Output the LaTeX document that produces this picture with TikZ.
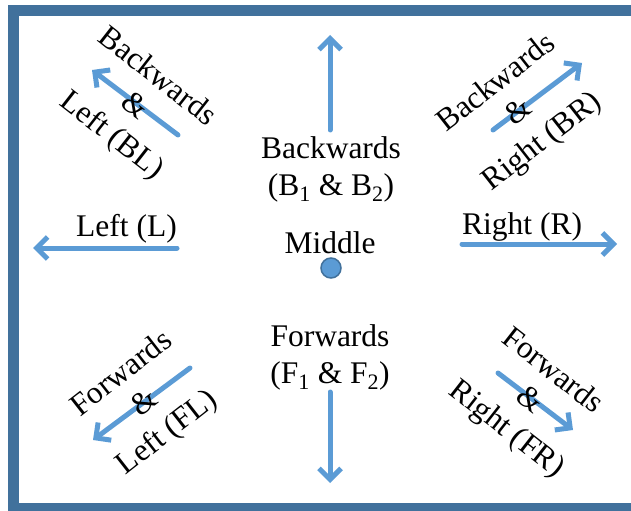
\documentclass[tikz,border=0pt]{standalone}
\usepackage{fontspec}
\setmainfont{Liberation Serif}
\usetikzlibrary{arrows.meta}
\definecolor{frameColor}{HTML}{41719C}
\definecolor{arrowColor}{HTML}{5B9BD5}
\definecolor{dotColor}{HTML}{5B9BD5}
\definecolor{dotLineColor}{HTML}{41719C}
\def\textB{Backwards\\(B\textsubscript{1} \& B\textsubscript{2})}
\def\textF{Forwards\\(F\textsubscript{1} \& F\textsubscript{2})}
\def\textL{Left (L)}
\def\textR{Right (R)}
\def\textBL{Backwards\\\&\\Left (BL)}
\def\textBR{Backwards\\\&\\Right (BR)}
\def\textFL{Forwards\\\&\\Left (FL)}
\def\textFR{Forwards\\\&\\Right (FR)}
\tikzset{
  moveArrow/.style={color=arrowColor, line width=5bp, line cap=round,
    -{Straight Barb[length=11bp, width=22bp]}},
  dirLabel/.style={align=center, inner sep=0pt,
    font=\fontsize{31.5bp}{37bp}\selectfont},
}

\begin{document}
\begin{tikzpicture}[x=1bp,y=-1bp]
\clip (0, 0) rectangle (631, 511);

% frame
\begin{scope}
\draw[color=frameColor, line width=11bp] (13.5, 10.5) rectangle (645, 508.5);
\end{scope}

% arrow ends
\begin{scope}
\coordinate (upTail) at (330, 130);
\coordinate (upTip) at (330, 35);
\coordinate (downTail) at (330, 392);
\coordinate (downTip) at (330, 483);
\coordinate (leftTail) at (177, 248);
\coordinate (leftTip) at (33, 248);
\coordinate (rightTail) at (462, 244);
\coordinate (rightTip) at (617, 244);
\coordinate (blTail) at (178, 135);
\coordinate (blTip) at (92, 70);
\coordinate (brTail) at (493, 130);
\coordinate (brTip) at (582, 63);
\coordinate (flTail) at (190, 368);
\coordinate (flTip) at (93, 440);
\coordinate (frTail) at (498, 373);
\coordinate (frTip) at (573, 430);
\end{scope}

% arrow layer
\begin{scope}
\draw[moveArrow] (upTail) -- (upTip);
\draw[moveArrow] (downTail) -- (downTip);
\draw[moveArrow] (leftTail) -- (leftTip);
\draw[moveArrow] (rightTail) -- (rightTip);
\draw[moveArrow] (blTail) -- (blTip);
\draw[moveArrow] (brTail) -- (brTip);
\draw[moveArrow] (flTail) -- (flTip);
\draw[moveArrow] (frTail) -- (frTip);
\end{scope}

% label layer
\begin{scope}
\node[dirLabel] (lblB) at (331, 169) {\textB};
\node[dirLabel] (lblF) at (330, 357) {\textF};
\node[dirLabel, anchor=base] (lblMid) at (330, 253) {Middle};
\node[dirLabel, anchor=base east] (lblL) at (177, 237) {\textL};
\node[dirLabel, anchor=base west] (lblR) at (462, 235) {\textR};
\node[dirLabel, rotate=-38] (lblBL) at (134, 107) {\textBL};
\node[dirLabel, rotate=38] (lblBR) at (520, 113) {\textBR};
\node[dirLabel, rotate=38] (lblFL) at (145, 404) {\textFL};
\node[dirLabel, rotate=-38] (lblFR) at (529, 401) {\textFR};
\end{scope}

% dot
\begin{scope}
\node[circle, inner sep=0pt, minimum size=20bp, fill=dotColor,
  draw=dotLineColor, line width=1.5bp] (middleDot) at (331, 268) {};
\end{scope}

\end{tikzpicture}
\end{document}
